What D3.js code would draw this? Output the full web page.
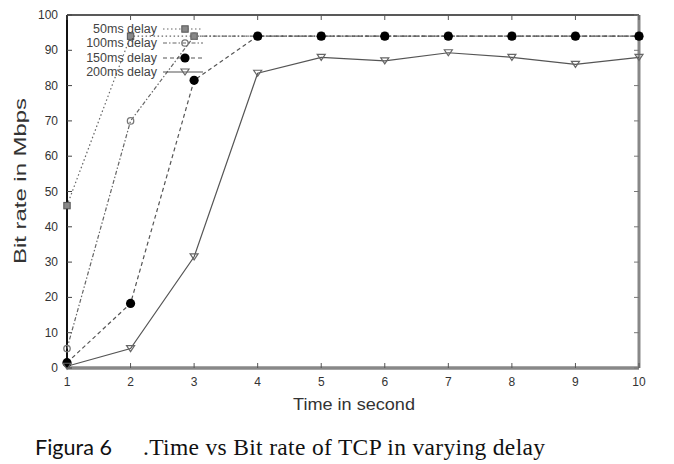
<!DOCTYPE html>
<html><head><meta charset="utf-8">
<script src="https://cdn.jsdelivr.net/npm/d3@7"></script>
<style>body{margin:0;background:#fff}svg{display:block}</style>
</head><body>
<svg id="c" width="674" height="464"></svg>
<script>
const times = [1,2,3,4,5,6,7,8,9,10];
const delay50  = [46, 94, 94, 94, 94, 94, 94, 94, 94, 94];
const delay100 = [5.5, 70, 94, 94, 94, 94, 94, 94, 94, 94];
const delay150 = [1.5, 18.3, 81.5, 94, 94, 94, 94, 94, 94, 94];
const delay200 = [0.5, 5.5, 31.5, 83.5, 88, 87, 89.3, 88, 86, 88];
const seriesNames = ["50ms delay","100ms delay","150ms delay","200ms delay"];
const yTicks = [0,10,20,30,40,50,60,70,80,90,100];
const xTicks = [1,2,3,4,5,6,7,8,9,10];

const svg = d3.select("#c");
const L=67, R=639, T=15, B=368;
const x = d3.scaleLinear().domain([1,10]).range([L,R]);
const y = d3.scaleLinear().domain([0,100]).range([B,T]);
const tickFont = "'Liberation Sans Narrow','Liberation Sans',Arial,sans-serif";

// frame
svg.append("line").attr("x1",L).attr("x2",R).attr("y1",T).attr("y2",T).attr("stroke","#222").attr("stroke-width",1.5);
svg.append("line").attr("x1",R).attr("x2",R).attr("y1",T).attr("y2",B).attr("stroke","#888").attr("stroke-width",3);
svg.append("line").attr("x1",L).attr("x2",R).attr("y1",B).attr("y2",B).attr("stroke","#888").attr("stroke-width",3.5);
svg.append("line").attr("x1",L).attr("x2",L).attr("y1",T).attr("y2",B).attr("stroke","#111").attr("stroke-width",2);

// ticks
const g = svg.append("g");
yTicks.forEach(v=>{
  g.append("line").attr("x1",L).attr("x2",L+5).attr("y1",y(v)).attr("y2",y(v)).attr("stroke","#444");
  g.append("line").attr("x1",R-5).attr("x2",R).attr("y1",y(v)).attr("y2",y(v)).attr("stroke","#777");
  g.append("text").attr("x",L-9).attr("y",y(v)+4).attr("text-anchor","end")
    .attr("font-family",tickFont).attr("font-size",12).attr("fill","#333").text(v);
});
xTicks.forEach(v=>{
  g.append("line").attr("x1",x(v)).attr("x2",x(v)).attr("y1",B).attr("y2",B-5).attr("stroke","#555");
  g.append("line").attr("x1",x(v)).attr("x2",x(v)).attr("y1",T).attr("y2",T+5).attr("stroke","#555");
  g.append("text").attr("x",x(v)).attr("y",B+18).attr("text-anchor","middle")
    .attr("font-family",tickFont).attr("font-size",12).attr("fill","#333").text(v);
});

// axis labels
svg.append("text").attr("transform",`translate(26,181) rotate(-90)`).attr("text-anchor","middle")
  .attr("font-family","'Liberation Sans',Arial,sans-serif").attr("font-size",16).attr("fill","#333")
  .attr("textLength",166).attr("lengthAdjust","spacingAndGlyphs").text("Bit rate in Mbps");
svg.append("text").attr("x",354).attr("y",410).attr("text-anchor","middle")
  .attr("font-family","'Liberation Sans',Arial,sans-serif").attr("font-size",16.5).attr("fill","#333")
  .attr("textLength",122).attr("lengthAdjust","spacingAndGlyphs").text("Time in second");

// caption
svg.append("text").attr("x",35).attr("y",455).attr("font-family","Lato,'Open Sans',sans-serif")
  .attr("font-size",20.5).attr("fill","#111")
  .attr("textLength",77).attr("lengthAdjust","spacingAndGlyphs").text("Figura 6");
svg.append("text").attr("x",143).attr("y",455).attr("font-family","'Liberation Serif','Times New Roman',serif")
  .attr("font-size",23.5).attr("fill","#111")
  .attr("textLength",402).attr("lengthAdjust","spacing").text(".Time vs Bit rate of TCP in varying delay");

const series = [
  {name:seriesNames[0], vals:delay50, dash:"1.5,2.5", marker:"xsq", color:"#666"},
  {name:seriesNames[1], vals:delay100, dash:"4,2,1.5,2", marker:"circ", color:"#666"},
  {name:seriesNames[2], vals:delay150, dash:"4,3", marker:"dot", color:"#555"},
  {name:seriesNames[3], vals:delay200, dash:null, marker:"tri", color:"#555"}
];
const line = d3.line().x(d=>x(d[0])).y(d=>y(d[1]));

function marker(sel, type, cx, cy){
  if(type==="xsq"){
    sel.append("rect").attr("x",cx-3.2).attr("y",cy-3.2).attr("width",6.4).attr("height",6.4).attr("fill","#888").attr("stroke","#555");
  } else if(type==="circ"){
    sel.append("circle").attr("cx",cx).attr("cy",cy).attr("r",3.2).attr("fill","none").attr("stroke","#777").attr("stroke-width",1.3);
  } else if(type==="dot"){
    sel.append("circle").attr("cx",cx).attr("cy",cy).attr("r",4.6).attr("fill","#000");
  } else {
    sel.append("path").attr("d",`M${cx-4},${cy-3}L${cx+4},${cy-3}L${cx},${cy+3}Z`).attr("fill","none").attr("stroke","#666").attr("stroke-width",1.2);
  }
}

series.forEach(s=>{
  const pts = times.map((t,i)=>[t,s.vals[i]]);
  svg.append("path").attr("d",line(pts)).attr("fill","none").attr("stroke",s.color).attr("stroke-width",1.2)
    .attr("stroke-dasharray",s.dash);
});
[0,1,2,3].forEach(k=>{
  const s=series[k];
  const mg=svg.append("g");
  times.forEach((t,i)=>marker(mg,s.marker,x(t),y(s.vals[i])));
});

// legend
const legY=[29,43,58,72];
series.forEach((s,i)=>{
  svg.append("text").attr("x",157).attr("y",legY[i]+4).attr("text-anchor","end")
    .attr("font-family",tickFont).attr("font-size",12.5).attr("fill","#444").text(s.name);
  svg.append("line").attr("x1",163).attr("x2",203).attr("y1",legY[i]).attr("y2",legY[i])
    .attr("stroke",s.color).attr("stroke-width",1.2).attr("stroke-dasharray",s.dash);
  marker(svg,s.marker,185,legY[i]);
});
</script>
</body></html>
